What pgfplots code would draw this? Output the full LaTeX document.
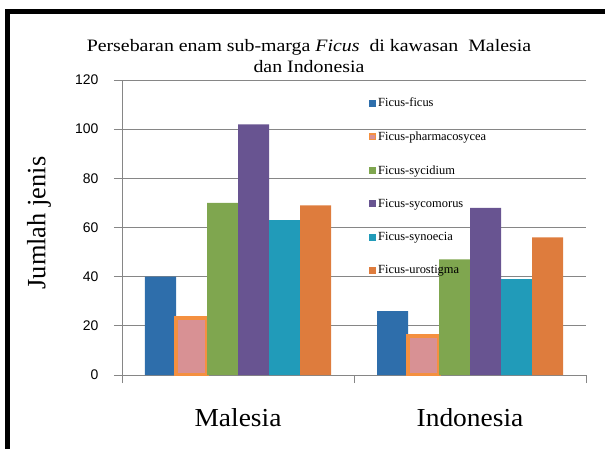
\documentclass[border=0pt]{standalone}
\usepackage{pgfplots}
\pgfplotsset{compat=1.18}
\usepackage{fontspec}
\setmainfont{Liberation Serif}
\newfontfamily\tickfont{Liberation Sans}
\newfontfamily\widefont[FakeStretch=1.14]{Liberation Serif}
\newfontfamily\catfont[FakeStretch=1.06]{Liberation Serif}

\definecolor{cblue}{RGB}{46,110,171}
\definecolor{cpink}{RGB}{216,145,148}
\definecolor{cpinkedge}{RGB}{244,144,64}
\definecolor{cgreen}{RGB}{127,166,79}
\definecolor{cpurple}{RGB}{104,84,145}
\definecolor{cteal}{RGB}{33,155,185}
\definecolor{corange}{RGB}{222,124,61}
\definecolor{cgrid}{RGB}{134,134,134}

\pgfplotsset{
  sq/.style={legend image code/.code={\fill[##1] (0bp,-3.5bp) rectangle (7bp,3.5bp);}},
}

\begin{document}
\begin{tikzpicture}
\useasboundingbox (0,0) rectangle (605bp,-449bp);
% black frame of the pasted chart (left and top only)
\fill[black] (5bp,-8.5bp) rectangle (605bp,-13.5bp);
\fill[black] (5bp,-8.5bp) rectangle (10bp,-449bp);

\begin{axis}[
    at={(122bp,-375bp)}, anchor=south west,
    scale only axis, width=464bp, height=295bp,
    ymin=0, ymax=120, ytick={0,20,...,120},
    xmin=-0.5, xmax=1.5,
    xtick={-0.5,0.5,1.5}, xticklabels={},
    extra x ticks={0,1}, extra x tick labels={Malesia,Indonesia},
    extra x tick style={major tick length=0pt},
    xticklabel style={anchor=center, yshift=-43bp, font=\catfont\fontsize{26}{26}\selectfont},
    yticklabel style={xshift=-12bp, font=\tickfont\fontsize{14}{14}\selectfont},
    /pgf/number format/assume math mode=true,
    ybar=0pt, bar width=31bp,
    axis x line*=bottom, axis y line*=left,
    axis line style={cgrid, line width=1bp, -},
    ymajorgrids, grid style={cgrid, line width=1bp},
    tick align=outside, major tick length=8bp,
    tick style={cgrid, line width=1bp},
    title={Persebaran enam sub-marga \textit{Ficus}\ \ di kawasan\ \ Malesia\\dan Indonesia},
    title style={at={(0.403,1.061)}, anchor=center, align=center, font=\widefont\fontsize{17.5}{22}\selectfont},
    ylabel={Jumlah jenis},
    ylabel style={at={(-0.179,0.515)}, anchor=center, font=\fontsize{26.5}{26.5}\selectfont},
    legend cell align=left,
    legend style={draw=none, fill=none, at={(0.526,0.953)}, anchor=north west,
        font=\fontsize{12.5}{12.5}\selectfont, row sep=19.5bp},
]
\addplot[fill=cblue, draw=none, sq] coordinates {(0,40) (1,26)};
\addlegendentry{Ficus-ficus}
\addplot[fill=cpink, draw=cpinkedge, line width=4bp,
    legend image code/.code={\draw[fill=cpink,draw=cpinkedge,line width=1.2bp] (0.6bp,-2.9bp) rectangle (6.4bp,2.9bp);}]
    coordinates {(0,23) (1,16)};
\addlegendentry{Ficus-pharmacosycea}
\addplot[fill=cgreen, draw=none, sq] coordinates {(0,70) (1,47)};
\addlegendentry{Ficus-sycidium}
\addplot[fill=cpurple, draw=none, sq] coordinates {(0,102) (1,68)};
\addlegendentry{Ficus-sycomorus}
\addplot[fill=cteal, draw=none, sq] coordinates {(0,63) (1,39)};
\addlegendentry{Ficus-synoecia}
\addplot[fill=corange, draw=none, sq] coordinates {(0,69) (1,56)};
\addlegendentry{Ficus-urostigma}
\end{axis}
\end{tikzpicture}
\end{document}
